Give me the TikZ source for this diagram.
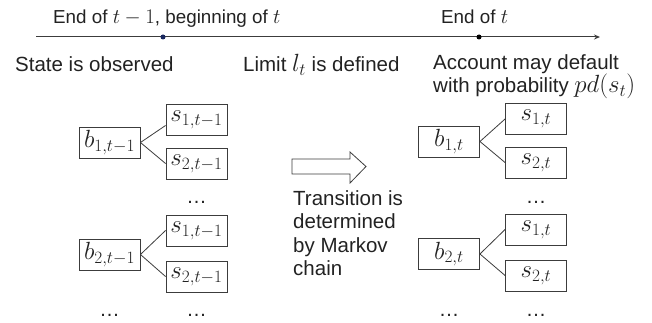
\documentclass[tikz,border=0pt]{standalone}
\usepackage[no-math]{fontspec}
\setmainfont{Liberation Sans}
\usetikzlibrary{arrows.meta}

\definecolor{ink}{RGB}{34,34,34}
\definecolor{edge}{RGB}{60,60,60}
\definecolor{navy}{RGB}{25,40,95}

% math set a little larger than the surrounding sans text
\newcommand{\im}[1]{{\fontsize{23.5}{23.5}\selectfont$#1$}}
\newcommand{\hm}[1]{{\fontsize{22}{22}\selectfont$#1$}}
\newcommand{\bm}[1]{{\fontsize{25}{25}\selectfont$#1$}}

\begin{document}
\begin{tikzpicture}[
  x=1pt, y=-1pt,
  font=\fontsize{20.5}{23.5}\selectfont,
  every node/.style={text=ink},
  txt/.style={inner sep=0pt, align=left},
  head/.style={txt, font=\fontsize{18.8}{22}\selectfont},
  acct/.style={draw=edge, line width=0.9pt, minimum width=61pt, minimum height=31pt, inner sep=0pt},
  branch/.style={draw=edge, line width=0.8pt},
  moment/.style={circle, inner sep=0pt, minimum size=5pt},
  etc/.style={inner sep=0pt, anchor=base},
]
\useasboundingbox (0,0) rectangle (652,323);

% time axis
\coordinate (axL) at (36,37);
\coordinate (axR) at (600,37);
\draw[edge, line width=1pt, -{Stealth[length=6pt,width=5pt]}] (axL) -- (axR);
\node[moment, fill=navy] (tprev) at (163,37) {};
\node[moment, fill=black] (tnow) at (479,37) {};

\node[head, anchor=base west] (hprev) at (53,24) {End of \hm{t-1}, beginning of \hm{t}};
\node[head, anchor=base west] (hnow) at (441,24) {End of \hm{t}};

\node[txt, anchor=base west] (obs) at (15,72) {State is observed};
\node[txt, anchor=base west] (lim) at (243,72) {Limit \im{l_t} is defined};
\node[txt, anchor=base west] (dflt1) at (433,70) {Account may default};
\node[txt, anchor=base west] (dflt2) at (433,93) {with probability \im{pd(s_t)}};

% accounts at t-1
\node[acct] (b1L) at (109.5,142.5) {\bm{b_{1,t-1}}};
\node[acct] (s11L) at (196.5,119.5) {\bm{s_{1,t-1}}};
\node[acct] (s21L) at (196.5,163.5) {\bm{s_{2,t-1}}};
\node[etc] (e1L) at (196.5,203) {…};
\node[acct] (b2L) at (109.5,254.5) {\bm{b_{2,t-1}}};
\node[acct] (s12L) at (196.5,230.5) {\bm{s_{1,t-1}}};
\node[acct] (s22L) at (196.5,276.5) {\bm{s_{2,t-1}}};
\node[etc] (e2L) at (109.5,316) {…};
\node[etc] (e3L) at (196.5,316) {…};

\draw[branch] (b1L.east) -- ([yshift=-6pt]s11L.west);
\draw[branch] (b1L.east) -- (s21L.west);
\draw[branch] (b2L.east) -- (s12L.west);
\draw[branch] (b2L.east) -- (s22L.west);

% accounts at t
\node[acct] (b1R) at (449,141.5) {\bm{b_{1,t}}};
\node[acct] (s11R) at (536,119) {\bm{s_{1,t}}};
\node[acct] (s21R) at (536,162.5) {\bm{s_{2,t}}};
\node[etc] (e1R) at (536,203) {…};
\node[acct] (b2R) at (449,254) {\bm{b_{2,t}}};
\node[acct] (s12R) at (536,229.5) {\bm{s_{1,t}}};
\node[acct] (s22R) at (536,275.5) {\bm{s_{2,t}}};
\node[etc] (e2R) at (449,316) {…};
\node[etc] (e3R) at (536,316) {…};

\draw[branch] (b1R.east) -- (s11R.west);
\draw[branch] (b1R.east) -- (s21R.west);
\draw[branch] (b2R.east) -- (s12R.west);
\draw[branch] (b2R.east) -- (s22R.west);

% transition block arrow
\coordinate (ma) at (292,166.5);
\draw[edge, line width=0.8pt, fill=white]
  (ma) ++(0,-7.5) -- ++(58,0) -- ++(0,-7) -- ++(16,14.5) -- ++(-16,16.5)
  -- ++(0,-9) -- ++(-58,0) -- cycle;
\node[txt, anchor=north west] (trans) at (293,190) {Transition is\\determined\\by Markov\\chain};
\end{tikzpicture}
\end{document}
